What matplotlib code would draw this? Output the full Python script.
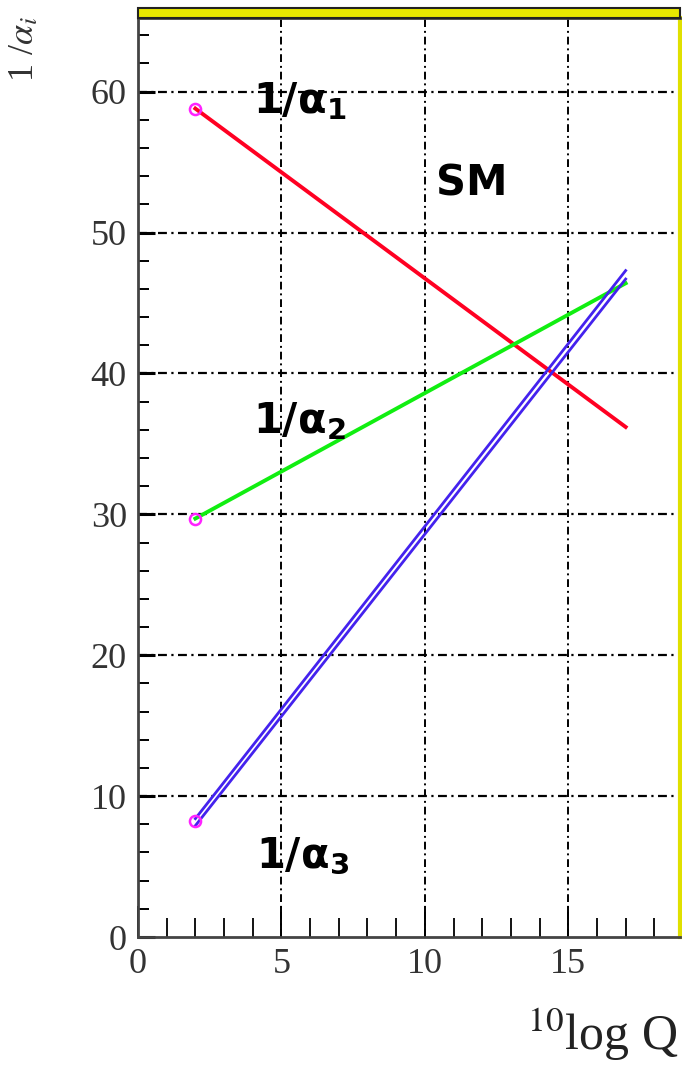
import numpy as np
import matplotlib.pyplot as plt
from matplotlib.patches import Rectangle
from matplotlib.ticker import MultipleLocator

plt.rcParams['mathtext.fontset'] = 'stix'

# running couplings 1/alpha_i vs 10log Q (SM), end points
logq = [2, 17]
inv_a1 = [58.8, 36.2]
inv_a2 = [29.7, 46.4]
inv_a3_lo = [7.9, 46.7]
inv_a3_hi = [8.4, 47.3]
start_pts = [58.8, 29.7, 8.2]

fig = plt.figure(figsize=(6.82, 10.82), dpi=100)
ax = fig.add_axes([0.2023, 0.134, 0.795, 0.849])

ax.set_xlim(0, 18.9)
ax.set_ylim(0, 65.2)

# grid
for x in [5, 10, 15]:
    ax.axvline(x, color='k', lw=1.4, ls=(0, (4, 2, 1, 2)), zorder=1)
for y in [10, 20, 30, 40, 50, 60]:
    ax.axhline(y, color='k', lw=1.6, ls=(0, (4, 2, 1, 2)), zorder=1)

ax.plot(logq, inv_a1, color='#ff0022', lw=2.8, zorder=3)
ax.plot(logq, inv_a2, color='#11ee11', lw=2.8, zorder=3)
ax.plot(logq, inv_a3_lo, color='#4422ee', lw=2.0, zorder=3)
ax.plot(logq, inv_a3_hi, color='#4422ee', lw=2.0, zorder=3)
ax.plot([logq[0]] * 3, start_pts, 'o', ms=8, mfc='none', mec='#ff22ff', mew=1.8, zorder=4)

ax.xaxis.set_major_locator(MultipleLocator(5))
ax.xaxis.set_minor_locator(MultipleLocator(1))
ax.yaxis.set_major_locator(MultipleLocator(10))
ax.yaxis.set_minor_locator(MultipleLocator(2))
ax.tick_params(which='both', direction='in', top=False, right=False)
ax.tick_params(which='major', length=22, width=1.4)
ax.tick_params(which='minor', length=14, width=1.3)
ax.tick_params(axis='y', which='major', length=12, width=2.2)
ax.tick_params(axis='y', which='minor', length=8, width=1.4)
ax.tick_params(labelsize=26, pad=8)
for lab in ax.get_xticklabels() + ax.get_yticklabels():
    lab.set_family('Liberation Serif')
    lab.set_color('#333333')

for s in ax.spines.values():
    s.set_linewidth(2.0)
    s.set_color('#444444')
ax.spines['right'].set_color('#e0e000')
ax.spines['right'].set_linewidth(3)

lab_kw = dict(fontsize=30, fontweight='bold', family='DejaVu Sans',
              math_fontfamily='dejavusans', zorder=5)
ax.text(4.0, 58.5, r'$\mathbf{1/\alpha_1}$', **lab_kw)
ax.text(4.0, 35.8, r'$\mathbf{1/\alpha_2}$', **lab_kw)
ax.text(4.1, 4.9, r'$\mathbf{1/\alpha_3}$', **lab_kw)
ax.text(10.4, 52.6, 'SM', fontsize=30, fontweight='bold', family='DejaVu Sans')

# axis titles in the corners
fig.text(0.012, 0.985, r'1 /$\alpha_i$', rotation=90, fontsize=26,
         family='Liberation Serif', ha='left', va='top', color='#333333')
fig.text(0.995, 0.018, r'$^{10}$log Q', fontsize=36, family='Liberation Serif',
         ha='right', va='bottom', color='#222222')

# yellow frame band along the top
fig.patches.append(Rectangle((0.2023, 0.983), 0.795, 0.010, transform=fig.transFigure,
                             facecolor='#e8e800', edgecolor='#222222', lw=1.5))

fig.savefig('out.png', dpi=100)
